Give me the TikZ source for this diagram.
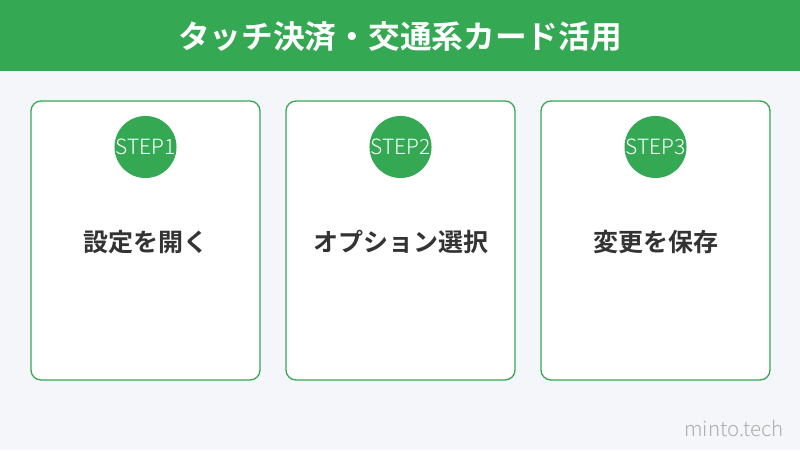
\documentclass[tikz,border=0pt]{standalone}
\usepackage{fontspec}
\newfontfamily\jp{Noto Sans CJK JP}
\newfontfamily\jpb{Noto Sans CJK JP Bold}
\newfontfamily\jpl{Noto Sans CJK JP Light}
\usetikzlibrary{positioning}
\definecolor{mgreen}{HTML}{34A853}
\definecolor{mbg}{HTML}{F5F6FA}
\definecolor{mtext}{HTML}{333333}

\tikzstyle{card} = [draw=mgreen, line width=1.3pt, fill=white, rounded corners=10pt, minimum width=229pt, minimum height=279pt, inner sep=0pt]
\tikzstyle{stepdot} = [circle, fill=mgreen, minimum size=48pt, inner sep=0pt, text=white, font=\jpl\fontsize{21}{21}\selectfont]
\tikzstyle{label} = [text=mtext, font=\jpb\fontsize{25}{28}\selectfont]

\begin{document}
\begin{tikzpicture}[x=1pt, y=-1pt]
  \def\sep{255}

  \useasboundingbox (0,0) rectangle (800,450);
  \fill[mbg] (0,0) rectangle (800,450);
  \fill[mgreen] (0,0) rectangle (800,71);
  \node[text=white, font=\jpb\fontsize{31.7}{34}\selectfont] (title) at (400,37) {タッチ決済・交通系カード活用};

  \node[card] (c1) at (145.5,240.5) {};
  \node[card] (c2) at (145.5+\sep,240.5) {};
  \node[card] (c3) at (145.5+2*\sep,240.5) {};

  \node[stepdot] (s1) at (145.5,147) {STEP1};
  \node[stepdot] (s2) at (145.5+\sep,147) {STEP2};
  \node[stepdot] (s3) at (145.5+2*\sep,147) {STEP3};

  \node[label] (l1) at (145.5,242) {設定を開く};
  \node[label] (l2) at (145.5+\sep,242) {オプション選択};
  \node[label] (l3) at (145.5+2*\sep,242) {変更を保存};

  \node[text=black!32, font=\jpl\fontsize{20.5}{20}\selectfont] (mark) at (734,428) {minto.tech};
\end{tikzpicture}
\end{document}
